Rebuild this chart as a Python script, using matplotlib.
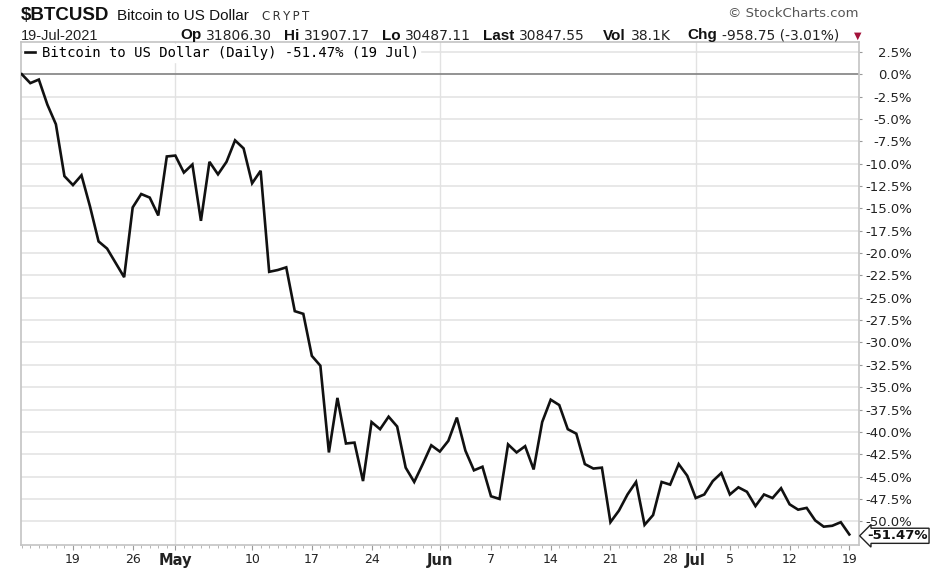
import matplotlib.pyplot as plt
import matplotlib.transforms as mtransforms
import numpy as np
import pandas as pd

# =============================================================================
# Data: % change of BTCUSD since 13 Apr 2021 (daily close)
# =============================================================================
start_date = '2021-04-13'
pct_change = [
    0.0, -1.0, -0.6, -3.4, -5.6, -11.4, -12.4, -11.3, -14.8, -18.7,
    -19.5, -21.1, -22.7, -14.9, -13.4, -13.8, -15.8, -9.2, -9.1, -11.0,
    -10.1, -16.4, -9.8, -11.2, -9.8, -7.4, -8.3, -12.2, -10.8, -22.1,
    -21.9, -21.6, -26.5, -26.8, -31.5, -32.6, -42.3, -36.2, -41.3, -41.2,
    -45.5, -38.9, -39.7, -38.3, -39.4, -44.0, -45.6, -43.6, -41.5, -42.2,
    -41.0, -38.4, -42.1, -44.3, -43.9, -47.2, -47.5, -41.4, -42.3, -41.6,
    -44.2, -38.9, -36.4, -37.0, -39.7, -40.2, -43.6, -44.1, -44.0, -50.1,
    -48.8, -47.0, -45.6, -50.4, -49.3, -45.6, -45.9, -43.6, -44.9, -47.4,
    -47.0, -45.5, -44.6, -47.0, -46.2, -46.7, -48.3, -47.0, -47.4, -46.3,
    -48.1, -48.7, -48.5, -49.9, -50.6, -50.5, -50.1, -51.47,
]
last_pct = -51.47

tick_dates = ['2021-04-19', '2021-04-26', '2021-05-01', '2021-05-10',
              '2021-05-17', '2021-05-24', '2021-06-01', '2021-06-07',
              '2021-06-14', '2021-06-21', '2021-06-28', '2021-07-01',
              '2021-07-05', '2021-07-12', '2021-07-19']
tick_labels = ['19', '26', 'May', '10', '17', '24', 'Jun', '7', '14', '21',
               '28', 'Jul', '5', '12', '19']
month_starts = ['2021-05-01', '2021-06-01', '2021-07-01']
y_ticks = [2.5, 0.0, -2.5, -5.0, -7.5, -10.0, -12.5, -15.0, -17.5, -20.0,
           -22.5, -25.0, -27.5, -30.0, -32.5, -35.0, -37.5, -40.0, -42.5,
           -45.0, -47.5, -50.0]

symbol = '$BTCUSD'
name = 'Bitcoin to US Dollar'
exchange = 'C\u2009R\u2009Y\u2009P\u2009T'
quote_date = '19-Jul-2021'
quote_fields = [('Op', '31806.30'), ('Hi', '31907.17'), ('Lo', '30487.11'),
                ('Last', '30847.55'), ('Vol', '38.1K'),
                ('Chg', '-958.75 (-3.01%)')]
legend_label = 'Bitcoin to US Dollar (Daily) -51.47% (19 Jul)'

dates = pd.date_range(start_date, periods=len(pct_change), freq='D')

# =============================================================================
# Figure
# =============================================================================
W, H = 936, 570
fig = plt.figure(figsize=(W / 100, H / 100), dpi=100)
left, right, top, bottom = 20.7, 858.7, 42, 545
ax = fig.add_axes([left / W, 1 - bottom / H, (right - left) / W, (bottom - top) / H])

ax.plot(dates, pct_change, color='#111111', lw=1.9, label=legend_label,
        solid_joinstyle='miter', zorder=3)

ax.set_xlim(dates[0] - pd.Timedelta(hours=3), dates[0] + pd.Timedelta(days=98.1))
ax.set_ylim(-52.65, 3.6)

# grid
for v in y_ticks:
    if v == 0:
        ax.axhline(v, color='#8a8a8a', lw=1.3, zorder=2)
    else:
        ax.axhline(v, color='#e8e8e8', lw=1.4, zorder=1)
for d in month_starts:
    ax.axvline(pd.Timestamp(d), color='#e2e2e2', lw=1.0, zorder=1)

for s in ax.spines.values():
    s.set_color('#c4c4c4')
    s.set_linewidth(1.2)

# y axis on the right
ax.yaxis.tick_right()
ax.set_yticks(y_ticks)
ax.set_yticklabels([('%.1f%%' % v).replace('-0.0', '0.0') for v in y_ticks])
ax.tick_params(axis='y', length=2.2, color='#999999', pad=36.2,
               labelsize=9.5, labelcolor='#222222')
for lab in ax.get_yticklabels():
    lab.set_horizontalalignment('right')
    lab.set_family('DejaVu Sans')

# x axis
ax.set_xticks(pd.to_datetime(tick_dates))
ax.set_xticklabels(tick_labels)
ax.set_xticks(dates, minor=True)
ax.tick_params(axis='x', which='major', length=3.5, color='#999999', pad=2,
               labelsize=9, labelcolor='#222222')
ax.tick_params(axis='x', which='minor', length=2.0, color='#aaaaaa')
for lab in ax.get_xticklabels():
    lab.set_family('DejaVu Sans')
    if lab.get_text() in ('May', 'Jun', 'Jul'):
        lab.set_fontweight('bold')
        lab.set_fontsize(10.5)

# legend
leg = ax.legend(loc='upper left', prop={'family': 'DejaVu Sans Mono', 'size': 10},
                frameon=True, fancybox=False, edgecolor='white', framealpha=1,
                borderaxespad=0.15, borderpad=0.15, handlelength=0.75,
                handletextpad=0.45)
leg.set_zorder(5)

# last value tag
trans = mtransforms.blended_transform_factory(ax.transAxes, ax.transData)
ax.text(1.0105, last_pct - 0.15, '%.2f%%' % last_pct, transform=trans, ha='left',
        va='center', fontsize=9.5, fontweight='bold', family='DejaVu Sans',
        color='#111111', zorder=6,
        bbox=dict(boxstyle='larrow,pad=0.08', fc='white', ec='#222222', lw=1.0))

# =============================================================================
# Header
# =============================================================================
def px(x, y):
    return x / W, 1 - y / H

fig.text(*px(21, 20.5), symbol, family='Liberation Sans', fontweight='bold',
         fontsize=13.5, color='#111111', va='baseline')
fig.text(*px(117, 20.5), name, family='Liberation Sans', fontsize=11,
         color='#111111', va='baseline')
fig.text(*px(262, 20.5), exchange, family='DejaVu Sans', fontsize=8.5,
         color='#333333', va='baseline')
fig.text(*px(858, 17), '\u00a9 StockCharts.com', family='DejaVu Sans',
         fontsize=9.5, color='#555555', ha='right', va='baseline')

fig.text(*px(21, 39.5), quote_date, family='Liberation Sans', fontsize=10.5,
         color='#222222', va='baseline')

# quote line: Op/Hi/Lo packed between x=180 and "Last" at x=483,
# the rest at the positions
renderer = fig.canvas.get_renderer()
pairs = []
for lab, val in quote_fields:
    t1 = fig.text(0, 0, lab, family='Liberation Sans', fontweight='bold',
                  fontsize=11, color='#111111', va='baseline')
    t2 = fig.text(0, 0, val, family='DejaVu Sans', fontsize=10,
                  color='#222222', va='baseline')
    w1 = t1.get_window_extent(renderer).width
    w2 = t2.get_window_extent(renderer).width
    pairs.append((t1, t2, w1, w2))
inner = 5
used = sum(w1 + inner + w2 for _, _, w1, w2 in pairs[:3])
gap = (483 - 180 - used) / 3
label_x = []
x = 180
for _, _, w1, w2 in pairs[:3]:
    label_x.append(x)
    x += w1 + inner + w2 + gap
label_x += [483, 603, 687]
for (t1, t2, w1, w2), lx in zip(pairs, label_x):
    t1.set_position(px(lx, 39.5))
    t2.set_position(px(lx + w1 + inner, 39.5))
fig.text(*px(854, 39), '\u25bc', family='DejaVu Sans', fontsize=7,
         color='#a3123a', va='baseline')

fig.savefig('out.png', dpi=100, facecolor='white')
